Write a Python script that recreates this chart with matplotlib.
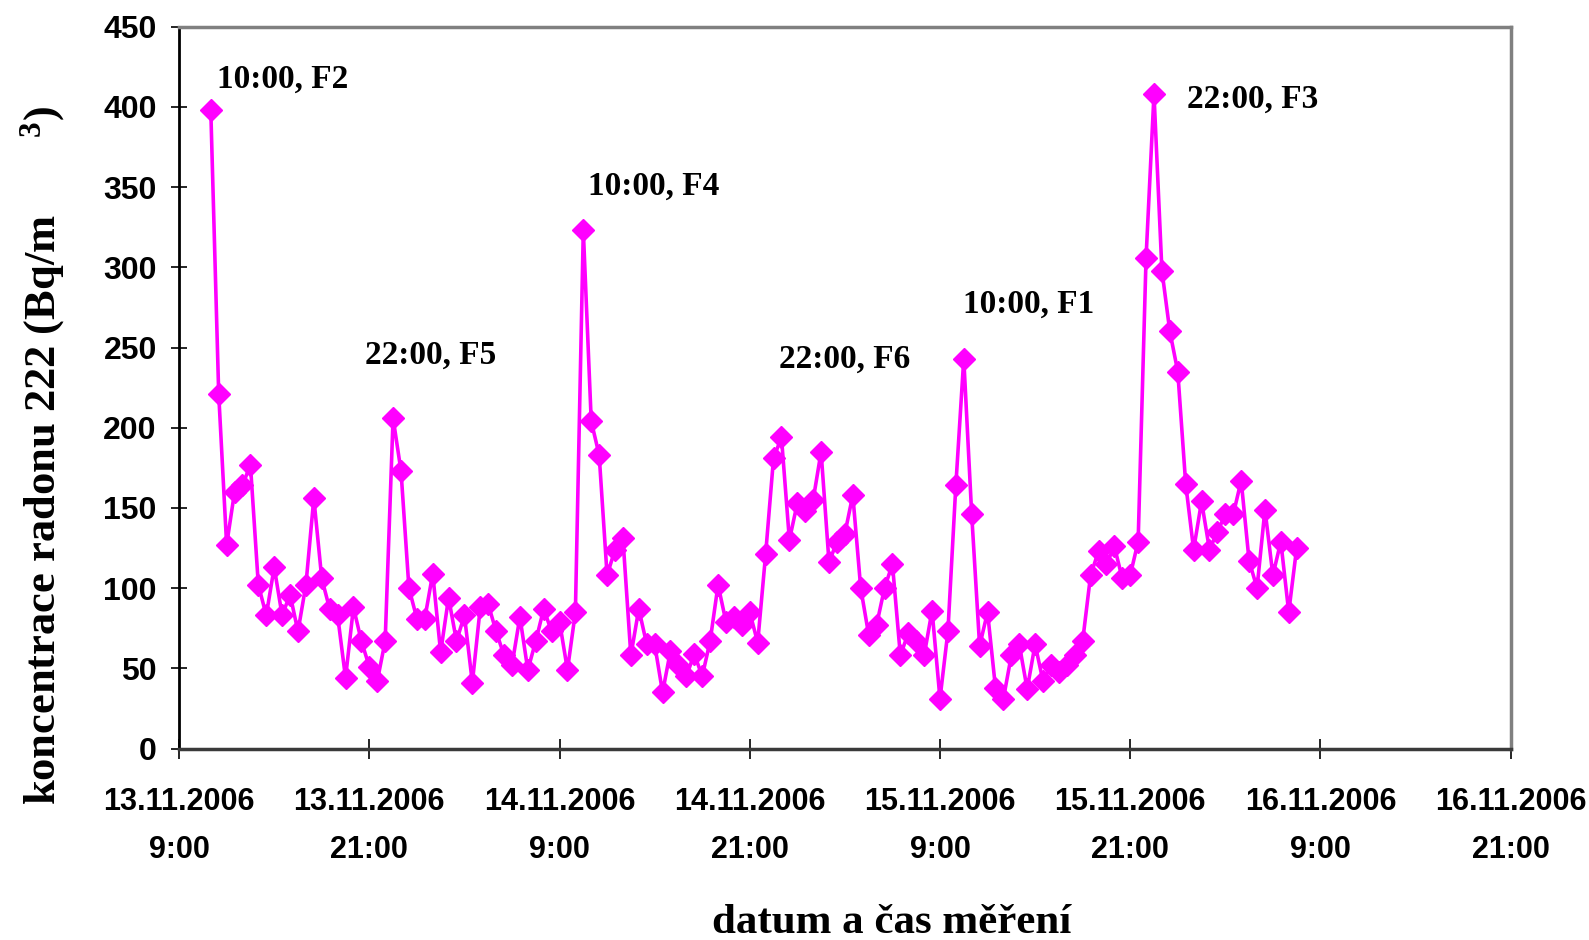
import matplotlib
matplotlib.use("Agg")
import matplotlib.pyplot as plt
import pandas as pd

plt.rcParams["mathtext.fontset"] = "custom"
plt.rcParams["mathtext.rm"] = "Liberation Serif:bold"
plt.rcParams["mathtext.it"] = "Liberation Serif:bold"
plt.rcParams["mathtext.bf"] = "Liberation Serif:bold"

# ---- data -------------------------------------------------------------
start_time = "2006-11-13 11:00"
step = "30min"
radon = [398, 221, 127, 160, 164, 177, 102, 83, 113, 83,
         96, 73, 102, 156, 106, 87, 83, 44, 88, 67,
         51, 42, 67, 206, 173, 100, 81, 81, 109, 60,
         94, 67, 83, 41, 88, 90, 73, 58, 52, 82,
         49, 67, 87, 73, 79, 49, 85, 323, 204, 183,
         108, 124, 131, 58, 87, 65, 65, 35, 61, 52,
         45, 59, 45, 67, 102, 79, 82, 77, 85, 66,
         121, 181, 194, 130, 153, 148, 155, 185, 116, 129,
         134, 158, 100, 71, 77, 100, 115, 58, 72, 67,
         58, 86, 31, 73, 164, 243, 146, 64, 85, 38,
         31, 58, 65, 37, 65, 42, 52, 48, 52, 58,
         67, 108, 123, 115, 126, 106, 108, 129, 306, 408,
         298, 260, 235, 165, 124, 154, 124, 135, 146, 146,
         167, 117, 100, 149, 108, 129, 85, 125]

x_ticks = pd.date_range("2006-11-13 09:00", "2006-11-16 21:00", freq="12h")
x_tick_labels = ["13.11.2006\n9:00", "13.11.2006\n21:00",
                 "14.11.2006\n9:00", "14.11.2006\n21:00",
                 "15.11.2006\n9:00", "15.11.2006\n21:00",
                 "16.11.2006\n9:00", "16.11.2006\n21:00"]
y_ticks = list(range(0, 451, 50))

peak_index = [0, 23, 47, 72, 95, 119]
peak_labels = ["10:00, F2", "22:00, F5", "10:00, F4",
               "22:00, F6", "10:00, F1", "22:00, F3"]
peak_offsets = [(4.6, 22.3), (-20, 45), (3.3, 31.7),
                (-2, 56), (-0.7, 39), (23.8, -4.1)]

times = pd.date_range(start_time, periods=len(radon), freq=step)

# ---- figure -----------------------------------------------------------
fig = plt.figure(figsize=(15.89, 9.40), dpi=100)
ax = fig.add_axes([0.1127, 0.2037, 0.8380, 0.7679])

ax.plot(times, radon, color="#FF00FF", lw=2.6, marker="D",
        markersize=11, markerfacecolor="#FF00FF",
        markeredgecolor="#FF00FF", markeredgewidth=1, zorder=3)

ax.set_xlim(x_ticks[0], x_ticks[-1])
ax.set_ylim(0, 450)
ax.set_xticks(x_ticks)
ax.set_xticklabels(x_tick_labels, linespacing=1.75)
ax.set_yticks(y_ticks)

for lab in ax.get_xticklabels():
    lab.set_fontfamily("Liberation Sans")
    lab.set_fontweight("bold")
    lab.set_fontsize(22)
for lab in ax.get_yticklabels():
    lab.set_fontfamily("Liberation Sans")
    lab.set_fontweight("bold")
    lab.set_fontsize(23)

ax.tick_params(axis="y", direction="inout", length=12, width=1.2, pad=10,
               color="black")
ax.tick_params(axis="x", direction="inout", length=14, width=1.2, pad=21,
               color="black")

ax.spines["left"].set_color("black")
ax.spines["left"].set_linewidth(2)
ax.spines["bottom"].set_color("#3a3a3a")
ax.spines["bottom"].set_linewidth(2.5)
ax.spines["top"].set_color("#808080")
ax.spines["top"].set_linewidth(2.5)
ax.spines["right"].set_color("#808080")
ax.spines["right"].set_linewidth(2.5)

for idx, lab, off in zip(peak_index, peak_labels, peak_offsets):
    ax.annotate(lab, xy=(times[idx], radon[idx]), xytext=off,
                textcoords="offset points", ha="left", va="center",
                fontfamily="Liberation Serif", fontweight="bold",
                fontsize=24, color="black")

fig.text(0.5614, 0.0074, "datum a čas měření", ha="center",
         va="baseline", fontfamily="Liberation Serif", fontweight="bold",
         fontsize=31)
fig.text(0.027, 0.516, "koncentrace radonu 222 (Bq/m       $^{3}$)",
         rotation=90, ha="center", va="center",
         fontfamily="Liberation Serif", fontweight="bold", fontsize=32)

fig.savefig("out.png", dpi=100, facecolor="white")
